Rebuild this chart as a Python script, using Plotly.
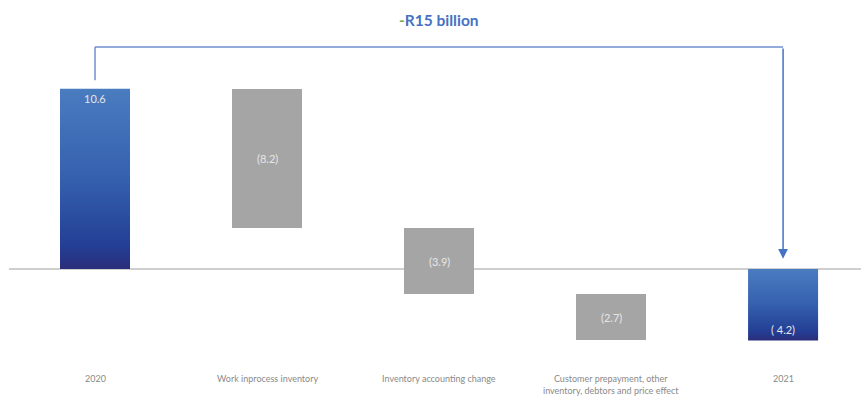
import plotly.graph_objects as go

# Inventory bridge, R billion
categories = ["2020", "Work inprocess inventory", "Inventory accounting change",
              "Customer prepayment, other<br>inventory, debtors and price effect", "2021"]
opening = 10.6
changes = [-8.2, -3.9, -2.7]
closing = -4.2
bar_labels = ["10.6", "(8.2)", "(3.9)", "(2.7)", "( 4.2)"]
headline = "-R15 billion"

BAR_W = 0.407
blue_scale = [[0.0, "#2b2d7a"], [0.13, "#233f95"], [0.5, "#3560ae"], [1.0, "#4a7cc0"]]
grey = "#a5a5a5"
label_col = "#e6e6e6"

fig = go.Figure()


def gradient_bar(x, y0, y1):
    lo, hi = min(y0, y1), max(y0, y1)
    fig.add_trace(go.Scatter(
        x=[x - BAR_W / 2, x + BAR_W / 2, x + BAR_W / 2, x - BAR_W / 2, x - BAR_W / 2],
        y=[lo, lo, hi, hi, lo],
        mode="lines", line=dict(width=0), fill="toself",
        fillgradient=dict(type="vertical", colorscale=blue_scale, start=lo, stop=hi),
        hoverinfo="skip", showlegend=False,
    ))


# totals as gradient bars
gradient_bar(0, 0, opening)
gradient_bar(4, 0, closing)

# floating change bars
bases, level = [], opening
for c in changes:
    bases.append(level)
    level += c
fig.add_trace(go.Bar(
    x=[1, 2, 3], y=changes, base=bases, width=BAR_W,
    marker=dict(color=grey, line=dict(width=0)), showlegend=False, hoverinfo="skip",
))

# value labels
fig.add_annotation(x=0, y=opening, text=bar_labels[0], showarrow=False, yshift=-10,
                   font=dict(size=11, color=label_col, family="Lato"))
for i, (b, c) in enumerate(zip(bases, changes)):
    fig.add_annotation(x=i + 1, y=b + c / 2, text=bar_labels[i + 1], showarrow=False,
                       font=dict(size=11, color=label_col, family="Lato"))
fig.add_annotation(x=4, y=closing, text=bar_labels[4], showarrow=False, yshift=11,
                   font=dict(size=11, color=label_col, family="Lato"))

# category labels
for i, cat in enumerate(categories):
    fig.add_annotation(x=i, y=-6.0, text=cat, showarrow=False, yanchor="top",
                       font=dict(size=9, color="#8a8a8a", family="Lato"))

# bracket from 2020 to 2021
bracket_col = "#6f8fcc"
top_y = 13.06
fig.add_shape(type="line", x0=0, x1=0, y0=11.1, y1=top_y, line=dict(color=bracket_col, width=1.5))
fig.add_shape(type="line", x0=0, x1=4, y0=top_y, y1=top_y, line=dict(color=bracket_col, width=1.5))
fig.add_annotation(x=4, y=0.6, ax=4, ay=top_y, axref="x", ayref="y", xref="x", yref="y",
                   text="", showarrow=True, arrowhead=2, arrowsize=1.3, arrowwidth=1.5,
                   arrowcolor="#4472c4")

# headline
fig.add_annotation(x=2, y=14.65, text="<b><span style='color:#70ad47'>-</span>" + headline[1:] + "</b>",
                   showarrow=False, font=dict(size=15.5, color="#4472c4", family="Lato"))

# zero line
fig.add_shape(type="line", xref="paper", x0=0, x1=1, y0=0, y1=0,
              line=dict(color="#bfbfbf", width=1.5), layer="below")

fig.update_layout(
    width=861, height=397, margin=dict(l=9, r=0, t=0, b=0),
    paper_bgcolor="white", plot_bgcolor="white",
    xaxis=dict(range=[-0.5, 4.453], visible=False, fixedrange=True),
    yaxis=dict(range=[-7.53, 15.82], visible=False, fixedrange=True),
    bargap=0, showlegend=False,
)

fig.write_html("out.html")
